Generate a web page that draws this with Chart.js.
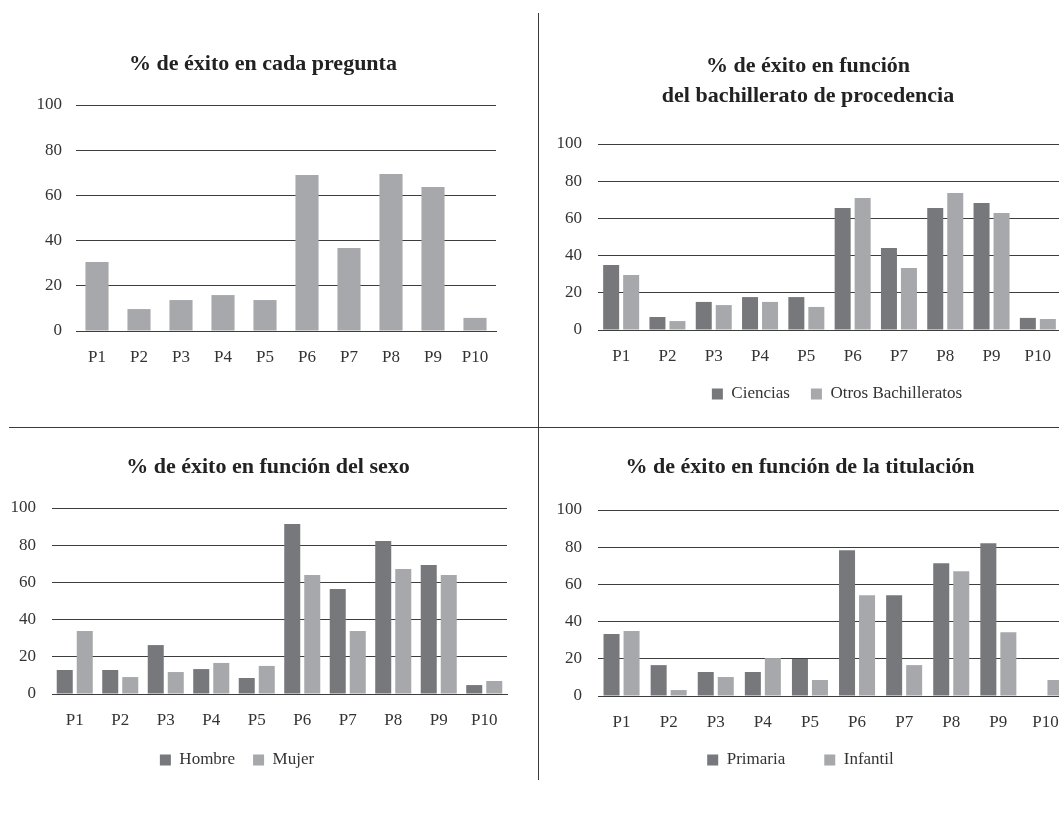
<!DOCTYPE html>
<html>
<head>
<meta charset="utf-8">
<script src="https://cdn.jsdelivr.net/npm/chart.js@4.4.1/dist/chart.umd.min.js"></script>
<style>
  body { margin: 0; width: 1059px; height: 814px; overflow: hidden; position: relative; background: #fff; }
  canvas { position: absolute; }
  .vline { position: absolute; left: 538px; top: 13px; width: 1px; height: 767px; background: #3a3a3a; }
  .hline { position: absolute; left: 9px; top: 427px; width: 1050px; height: 1px; background: #3a3a3a; }
</style>
</head>
<body>
<div class="vline"></div>
<div class="hline"></div>
<canvas id="c1" width="530" height="350" style="left:0;top:30px"></canvas>
<canvas id="c2" width="540" height="383" style="left:540px;top:30px"></canvas>
<canvas id="c3" width="530" height="349" style="left:0;top:430px"></canvas>
<canvas id="c4" width="560" height="372" style="left:520px;top:430px"></canvas>
<script>
// data
const labels = ['P1', 'P2', 'P3', 'P4', 'P5', 'P6', 'P7', 'P8', 'P9', 'P10'];
const exito = [30.5, 9.7, 13.7, 15.9, 13.7, 69.0, 36.7, 69.5, 63.7, 5.8];
const ciencias = [34.9, 7.0, 15.1, 17.7, 17.7, 65.6, 44.1, 65.6, 68.3, 6.5];
const otros = [29.6, 4.8, 13.4, 15.1, 12.4, 71.0, 33.3, 73.7, 62.9, 5.9];
const hombre = [12.9, 12.9, 26.3, 13.4, 8.6, 91.4, 56.5, 82.3, 69.4, 4.8];
const mujer = [33.9, 9.1, 11.8, 16.7, 15.1, 64.0, 33.9, 67.2, 64.0, 7.0];
const primaria = [33.3, 16.6, 12.9, 12.9, 19.9, 78.4, 54.2, 71.4, 82.1, 0];
const infantil = [34.9, 3.2, 10.2, 20.4, 8.6, 54.2, 16.6, 67.1, 34.3, 8.6];

const darkGray = '#77787c';
const lightGray = '#a7a8ab';
const gridColor = '#3d3d3d';
const textColor = '#333';

Chart.defaults.font.family = "'Liberation Serif', 'DejaVu Serif', serif";
Chart.defaults.font.size = 17;
Chart.defaults.color = textColor;

// title and legend are not centred on the plot in the original, move them
function moveBox(box, x, dy) {
  if (!box) return;
  if (x != null) {
    const dx = x - (box.left + box.right) / 2;
    box.left += dx;
    box.right += dx;
  }
  if (dy) {
    box.top += dy;
    box.bottom += dy;
  }
}
const boxCenter = {
  id: 'boxCenter',
  afterLayout(chart, args, opts) {
    moveBox(chart.titleBlock, opts.titleX, 0);
    moveBox(chart.legend, opts.legendX, opts.legendDy);
  }
};
Chart.register(boxCenter);

function makeChart(id, datasets, o) {
  return new Chart(document.getElementById(id), {
    type: 'bar',
    data: { labels: labels, datasets: datasets },
    options: {
      responsive: false,
      animation: false,
      layout: { padding: { left: o.padL, right: o.padR, top: 0, bottom: o.padB || 0 } },
      datasets: { bar: { categoryPercentage: o.cat, barPercentage: o.bar } },
      plugins: {
        title: {
          display: true,
          text: o.title,
          color: '#222',
          font: { size: 22, weight: 'bold', lineHeight: o.titleLH || 1.2 },
          padding: { top: o.titleTop, bottom: o.titleBottom }
        },
        legend: {
          display: datasets.length > 1,
          position: 'bottom',
          labels: { boxWidth: 11, boxHeight: 11, padding: o.legendGap || 10, color: textColor, font: { size: 17 } }
        },
        boxCenter: { titleX: o.titleX, legendX: o.legendX, legendDy: o.legendDy || 0 },
        tooltip: { enabled: false }
      },
      scales: {
        x: {
          grid: { display: false },
          border: { display: true, color: gridColor },
          ticks: { padding: 8, maxRotation: 0 },
          afterFit(s) { s.height = o.xH; }
        },
        y: {
          min: 0,
          max: 100,
          ticks: { stepSize: 20, padding: o.yPad },
          grid: { color: gridColor, drawTicks: false },
          border: { display: false },
          afterFit(s) { s.width = o.yW; }
        }
      }
    }
  });
}

makeChart('c1', [
  { label: '% de éxito', data: exito, backgroundColor: lightGray }
], {
  title: '% de éxito en cada pregunta',
  padL: 30, padR: 34, yW: 46, yPad: 14, xH: 49,
  titleTop: 21, titleBottom: 27.6,
  cat: 0.55, bar: 1
});

makeChart('c2', [
  { label: 'Ciencias', data: ciencias, backgroundColor: darkGray },
  { label: 'Otros Bachilleratos', data: otros, backgroundColor: lightGray }
], {
  title: ['% de éxito en función', 'del bachillerato de procedencia'],
  titleLH: 30 / 22,
  padL: 15, padR: 19, padB: 0.5, yW: 43, yPad: 16, xH: 34.5,
  titleTop: 21.6, titleBottom: 32.4,
  legendGap: 21, legendX: 297,
  cat: 0.864, bar: 0.8
});

makeChart('c3', [
  { label: 'Hombre', data: hombre, backgroundColor: darkGray },
  { label: 'Mujer', data: mujer, backgroundColor: lightGray }
], {
  title: '% de éxito en función del sexo',
  padL: 7, padR: 23, padB: 0.5, yW: 45, yPad: 16, xH: 39.5,
  titleTop: 24.4, titleBottom: 27.2,
  titleX: 268, legendGap: 18, legendX: 237,
  cat: 0.88, bar: 0.8
});

makeChart('c4', [
  { label: 'Primaria', data: primaria, backgroundColor: darkGray },
  { label: 'Infantil', data: infantil, backgroundColor: lightGray }
], {
  title: '% de éxito en función de la titulación',
  padL: 11, padR: 11, padB: 0.5, yW: 67, yPad: 16, xH: 39.5,
  titleTop: 24.4, titleBottom: 29.2,
  legendGap: 39, legendX: 280.5, legendDy: -23,
  cat: 0.85, bar: 0.8
});
</script>
</body>
</html>
